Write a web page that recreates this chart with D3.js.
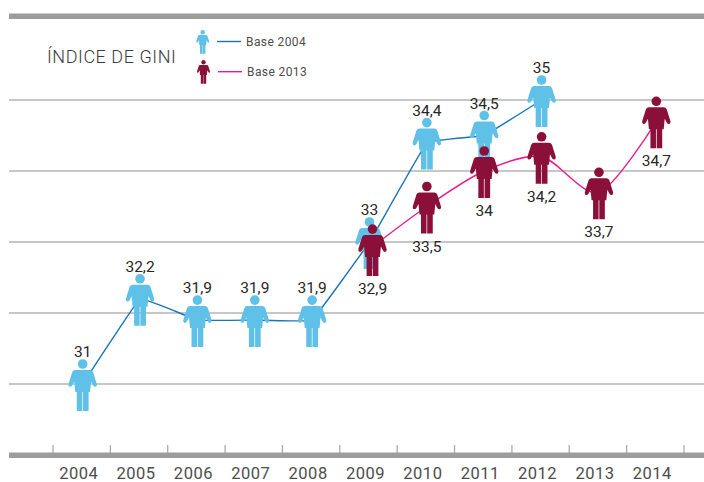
<!DOCTYPE html>
<html><head><meta charset="utf-8">
<script src="https://cdn.jsdelivr.net/npm/d3@7"></script>
<style>html,body{margin:0;padding:0;background:#fff}svg{display:block}text{font-family:Roboto,sans-serif}</style>
</head><body><svg id="c" width="704" height="482"></svg>
<script>
const years = [2004,2005,2006,2007,2008,2009,2010,2011,2012,2013,2014];
const base2004 = [31,32.2,31.9,31.9,31.9,33,34.4,34.5,35,null,null];
const base2013 = [null,null,null,null,null,32.9,33.5,34,34.2,33.7,34.7];
const gridValues = [31,32,33,34,35];
const colors = {b04:"#5fc1e7", b13:"#8a1039", l04:"#1b75bb", l13:"#ec1c8e", grid:"#b5b5b5", bar:"#9d9d9d"};

const svg = d3.select("#c");
const x = d3.scaleBand().domain(years).range([53,684]);
const y = d3.scaleLinear().domain([31,35]).range([384,100]);
const cx = d => x(d)+x.bandwidth()/2+1;

svg.append("rect").attr("x",9).attr("y",13.5).attr("width",695).attr("height",5.5).attr("fill",colors.bar);
svg.append("rect").attr("x",9).attr("y",452.5).attr("width",695).attr("height",5.5).attr("fill",colors.bar);
svg.selectAll(".g").data(gridValues).join("line")
  .attr("x1",9).attr("x2",704).attr("y1",d=>y(d)).attr("y2",d=>y(d))
  .attr("stroke",colors.grid).attr("stroke-width",1.6);
const tickPos = years.map(d=>x(d)).concat([x.range()[1]]);
svg.selectAll(".t").data(tickPos).join("line")
  .attr("x1",d=>d).attr("x2",d=>d).attr("y1",445).attr("y2",453)
  .attr("stroke","#a5a5a5").attr("stroke-width",1.2);
svg.selectAll(".yl").data(years).join("text")
  .attr("x",d=>cx(d)-4).attr("y",478.5).attr("text-anchor","middle")
  .attr("font-size",16.5).attr("fill","#4d4d4d").attr("letter-spacing",0.5).text(d=>d);

svg.append("text").attr("x",47).attr("y",63).attr("font-size",18).attr("font-weight",300)
  .attr("letter-spacing",0.55).attr("fill","#3c3c3c").text("ÍNDICE DE GINI");

function person(g,fill){
  g.append("circle").attr("cx",0).attr("cy",-20).attr("r",4.8).attr("fill",fill);
  g.append("path").attr("fill",fill).attr("d",
    "M-7.5,-14 L7.5,-14 Q9.5,-14 10.4,-12 L14,-0.5 Q14.7,2.4 12.6,2.8 Q11,3 10.2,1 L8.4,-2.5 L7.4,8 L5.9,8 L5.9,27 L0.35,27 L0.35,8 L-0.35,8 L-0.35,27 L-5.9,27 L-5.9,8 L-7.4,8 L-8.4,-2.5 L-10.2,1 Q-11,3 -12.6,2.8 Q-14.7,2.4 -14,-0.5 L-10.4,-12 Q-9.5,-14 -7.5,-14 Z");
}
const legend = [
  {label:"Base 2004",fill:colors.b04,line:colors.l04,fx:202.7,fy:41.4,lx:217,ly:41.5,tx:246,ty:46},
  {label:"Base 2013",fill:colors.b13,line:colors.l13,fx:203.5,fy:71.4,lx:218,ly:71.7,tx:247,ty:76}
];
legend.forEach(l=>{
  person(svg.append("g").attr("transform",`translate(${l.fx},${l.fy}) scale(0.46)`),l.fill);
  svg.append("line").attr("x1",l.lx).attr("x2",l.lx+24).attr("y1",l.ly).attr("y2",l.ly)
    .attr("stroke",l.line).attr("stroke-width",1.4);
  svg.append("text").attr("x",l.tx).attr("y",l.ty).attr("font-size",12).attr("letter-spacing",0.4)
    .attr("fill","#4d4d4d").text(l.label);
});

const pairs = (vals)=>years.map((yr,i)=>({yr,v:vals[i],i})).filter(d=>d.v!=null);
const line04 = d3.line().x(d=>cx(d.yr)).y(d=>y(d.v)).curve(d3.curveCardinal.tension(0.85));
const line13 = d3.line().x(d=>cx(d.yr)).y(d=>y(d.v)).curve(d3.curveCardinal.tension(0.15));
svg.append("path").attr("d",line04(pairs(base2004))).attr("fill","none").attr("stroke",colors.l04).attr("stroke-width",1.4);
svg.append("path").attr("d",line13(pairs(base2013))).attr("fill","none").attr("stroke",colors.l13).attr("stroke-width",1.4);

// where both series nearly coincide, the 2013 figure is nudged aside
const dodge = d => (base2004[d.i]!=null && Math.abs(base2004[d.i]-d.v)<0.2) ? 3 : 0;
const fmt = v => String(v).replace(".",",");
pairs(base2004).forEach(d=>{
  person(svg.append("g").attr("transform",`translate(${cx(d.yr)},${y(d.v)})`),colors.b04);
});
pairs(base2013).forEach(d=>{
  person(svg.append("g").attr("transform",`translate(${cx(d.yr)+dodge(d)},${y(d.v)})`),colors.b13);
});
pairs(base2004).forEach(d=>{
  svg.append("text").attr("x",cx(d.yr)).attr("y",y(d.v)-27).attr("text-anchor","middle")
    .attr("font-size",15.5).attr("fill","#262626").text(fmt(d.v));
});
pairs(base2013).forEach(d=>{
  svg.append("text").attr("x",cx(d.yr)+dodge(d)).attr("y",y(d.v)+45).attr("text-anchor","middle")
    .attr("font-size",15.5).attr("fill","#262626").text(fmt(d.v));
});
</script></body></html>
